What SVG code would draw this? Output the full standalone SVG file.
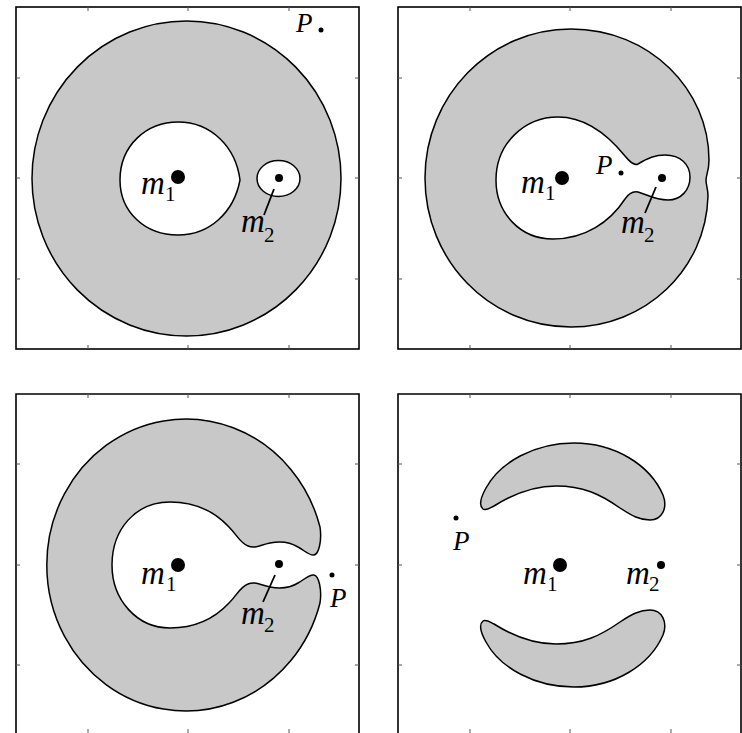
<svg xmlns="http://www.w3.org/2000/svg" width="742" height="733" viewBox="0 0 742 733">
<style>
.frame{fill:none;stroke:#000;stroke-width:1.6}
.tick{stroke:#555;stroke-width:1}
.region{fill:#c8c8c8;stroke:#000;stroke-width:1.5}
.hole{fill:#fff;stroke:#000;stroke-width:1.5}
.lead{stroke:#000;stroke-width:1.8;fill:none}
.lab{font-family:"Liberation Serif","Times New Roman",serif;font-style:italic;font-size:33px;fill:#000}
.plab{font-family:"Liberation Serif","Times New Roman",serif;font-style:italic;font-size:27px;fill:#000}
.sub{font-family:"Liberation Serif","Times New Roman",serif;font-size:21px;fill:#000}
</style>
<rect width="742" height="733" fill="#fff"/>

<!-- Panel 1 -->
<g id="panel1">
<rect class="frame" x="16" y="7" width="343" height="342"/>
<path class="tick" d="M88,7v4M188,7v4M289,7v4M88,349v-4M188,349v-4M289,349v-4M16,78h4M16,178h4M16,279h4M359,78h-4M359,178h-4M359,279h-4"/>
<ellipse class="region" cx="186.5" cy="178.5" rx="154.5" ry="157.5"/>
<path class="hole" d="M120,180 C120,145 147,122 178,122 C212,122 236,148 240,180 C234,212 210,235 178,235 C145,235 120,212 120,180 Z"/>
<ellipse class="hole" cx="278.5" cy="178.5" rx="21.5" ry="18"/>
</g>

<!-- Panel 2 -->
<g id="panel2">
<rect class="frame" x="398" y="7" width="343" height="342"/>
<path class="tick" d="M470,7v4M570,7v4M671,7v4M470,349v-4M570,349v-4M671,349v-4M398,78h4M398,178h4M398,279h4M741,78h-4M741,178h-4M741,279h-4"/>
<path class="region" d="M571,29 C650,29 709,90 709,160 C709,171 706,175 706,180 C706,185 708,189 708,196 C706,270 645,327 571,327 C489,327 425,260 425,178 C425,96 490,29 571,29 Z"/>
<path class="hole" d="M496,180 C496,143 525,117 558,117 C590,117 612,140 625,156 C630,162 634,166 638,164 C648,158 655,155 665,155 C681,155 690,165 690,177 C690,190 681,200 668,200 C655,200 648,195 638,192 C633,191 629,193 625,199 C610,222 585,239 553,239 C520,239 496,213 496,180 Z"/>
</g>

<!-- Panel 3 -->
<g id="panel3">
<path class="frame" d="M16,733 V394 H359 V733"/>
<path class="tick" d="M88,394v4M188,394v4M289,394v4M88,733v-4M188,733v-4M289,733v-4M16,464h4M16,565h4M16,665h4M359,464h-4M359,565h-4M359,665h-4"/>
<path class="region" d="M320,527 C322,540 319,554 314,555 C310,556 305,551 298,547 C290,542 280,541 270,543 C260,545 255,549 248,546 C240,543 237,535 229,527 C215,512 195,502 170,502 C135,502 112,530 112,565 C112,600 137,628 170,628 C195,628 215,618 229,603 C237,595 240,587 248,584 C255,581 260,585 270,587 C280,589 290,588 298,583 C305,579 310,574 314,575 C319,576 322,590 320,603 A139 146 0 1 1 320,527 Z"/>
</g>

<!-- Panel 4 -->
<g id="panel4">
<path class="frame" d="M398,733 V394 H741 V733"/>
<path class="tick" d="M470,394v4M570,394v4M671,394v4M470,733v-4M570,733v-4M671,733v-4M398,464h4M398,565h4M398,665h4M741,464h-4M741,565h-4M741,665h-4"/>
<path id="crescent-upper" class="region" d="M483,509 C478,505 481,497 486,488 C500,462 535,443 574,443 C615,443 650,465 663,495 C668,508 662,520 650,520 C640,520 632,516 620,508 C600,494 583,486 556,486 C530,486 510,496 494,506 C490,508 486,511 483,509 Z"/>
<path id="crescent-lower" class="region" transform="matrix(1,0,0,-1,0,1130)" d="M483,509 C478,505 481,497 486,488 C500,462 535,443 574,443 C615,443 650,465 663,495 C668,508 662,520 650,520 C640,520 632,516 620,508 C600,494 583,486 556,486 C530,486 510,496 494,506 C490,508 486,511 483,509 Z"/>
</g>

<!-- Connectors (leader lines) -->
<g id="connectors">
<line class="lead" x1="274" y1="189" x2="264" y2="215"/>
<line class="lead" x1="656" y1="187" x2="645" y2="213"/>
<line class="lead" x1="275" y1="575" x2="263" y2="602"/>
</g>

<!-- Nodes -->
<g id="p1-m1"><circle cx="178" cy="177" r="7"/><text class="lab" x="141" y="194">m</text><text class="sub" x="165" y="201">1</text></g>
<g id="p1-m2"><circle cx="279" cy="178" r="4"/><text class="lab" x="241" y="232">m</text><text class="sub" x="264" y="242">2</text></g>
<g id="p1-P"><circle cx="321" cy="30" r="2.5"/><text class="plab" x="296" y="32">P</text></g>

<g id="p2-m1"><circle cx="562" cy="178" r="7"/><text class="lab" x="521" y="193">m</text><text class="sub" x="545" y="200">1</text></g>
<g id="p2-m2"><circle cx="662" cy="178" r="4"/><text class="lab" x="621" y="233">m</text><text class="sub" x="644" y="242">2</text></g>
<g id="p2-P"><circle cx="621" cy="173" r="2.5"/><text class="plab" x="596" y="174">P</text></g>

<g id="p3-m1"><circle cx="178" cy="565" r="7"/><text class="lab" x="141" y="584">m</text><text class="sub" x="166" y="591">1</text></g>
<g id="p3-m2"><circle cx="279" cy="564" r="4"/><text class="lab" x="241" y="624">m</text><text class="sub" x="264" y="632">2</text></g>
<g id="p3-P"><circle cx="332" cy="575" r="2.5"/><text class="plab" x="330" y="607">P</text></g>

<g id="p4-m1"><circle cx="560" cy="565" r="7"/><text class="lab" x="523" y="584">m</text><text class="sub" x="547" y="591">1</text></g>
<g id="p4-m2"><circle cx="661" cy="565" r="4"/><text class="lab" x="626" y="584">m</text><text class="sub" x="649" y="591">2</text></g>
<g id="p4-P"><circle cx="456" cy="518" r="2.5"/><text class="plab" x="453" y="550">P</text></g>
</svg>
